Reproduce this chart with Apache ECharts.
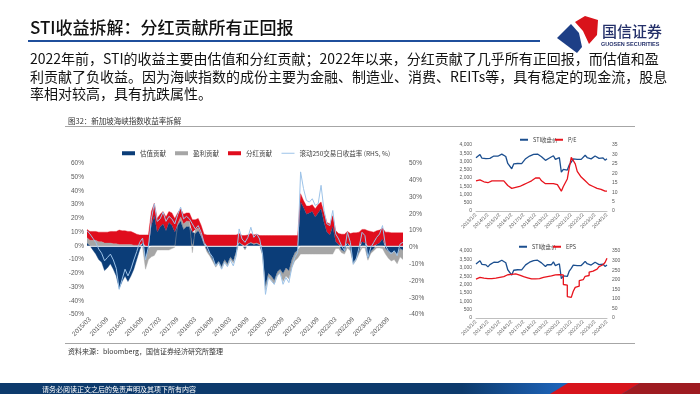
<!DOCTYPE html>
<html><head><meta charset="utf-8">
<script src="https://cdn.jsdelivr.net/npm/echarts@6/dist/echarts.min.js"></script>
<style>
body{margin:0;width:700px;height:394px;overflow:hidden;background:#fff;font-family:"Noto Sans CJK SC","Noto Sans",sans-serif;}
#chart{position:absolute;left:0;top:0;width:700px;height:394px;}
.t{position:absolute;white-space:nowrap;}
#ov{position:absolute;left:0;top:0;}
</style></head><body>
<div id="chart"></div>
<svg id="ov" width="700" height="394" xmlns="http://www.w3.org/2000/svg">
  <defs>
    <linearGradient id="bg" x1="0" x2="1" y1="0" y2="0">
      <stop offset="0" stop-color="#0d3a6c"/>
      <stop offset="0.66" stop-color="#0d3a6c"/>
      <stop offset="0.8" stop-color="#1d63b8"/>
      <stop offset="1" stop-color="#1d63b8"/>
    </linearGradient>
  </defs>
  <rect x="28" y="40" width="512" height="2" fill="#1f4f9c"/>
  <rect x="65" y="126" width="570" height="1" fill="#a6a6a6"/>
  <rect x="65" y="343" width="570" height="1" fill="#a6a6a6"/>
  <rect x="0" y="383" width="700" height="11" fill="url(#bg)"/>
  <polygon points="550,394 568,383 640,383 622,394" fill="#d7141c"/>
  <polygon points="622,394 640,383 700,383 700,394" fill="#9e1b21"/>
  <polygon points="557,38 571,24 579,33 582,47 577,53" fill="#1d3f86"/>
  <polygon points="575,22 585,16 598,20 597,35 589,44 583,31" fill="#d9131b"/>
</svg>
<div class="t" style="left:30px;top:14px;font-size:17px;font-weight:500;color:#111;">STI收益拆解：分红贡献所有正回报</div>
<div class="t" style="left:602px;top:20px;font-size:15px;font-weight:500;color:#24306a;">国信证券</div>
<div class="t" style="left:601px;top:41px;font-size:5.5px;font-weight:700;color:#24306a;font-family:'Liberation Sans',sans-serif;">GUOSEN SECURITIES</div>
<div class="t" style="left:30px;top:50px;font-size:14px;line-height:17.5px;color:#111;">2022年前，STI的收益主要由估值和分红贡献；2022年以来，分红贡献了几乎所有正回报，而估值和盈<br>利贡献了负收益。因为海峡指数的成份主要为金融、制造业、消费、REITs等，具有稳定的现金流，股息<br>率相对较高，具有抗跌属性。</div>
<div class="t" style="left:68px;top:115px;font-size:7.5px;color:#333;">图32：新加坡海峡指数收益率拆解</div>
<div class="t" style="left:68px;top:346px;font-size:7px;color:#333;">资料来源：bloomberg，国信证券经济研究所整理</div>
<div class="t" style="left:42px;top:383.5px;font-size:7px;line-height:10px;color:#fff;">请务必阅读正文之后的免责声明及其项下所有内容</div>
<script>
// ---- main chart data (monthly, 2015/02 - 2024/02) ----
const mainTickLabels = ['2015/03','2015/09','2016/03','2016/09','2017/03','2017/09','2018/03','2018/09','2019/03','2019/09','2020/03','2020/09','2021/03','2021/09','2022/03','2022/09','2023/03','2023/09'];
const mainMonths = [];
for (let y = 2015, m = 2; !(y === 2024 && m === 3);) { mainMonths.push(y + '/' + String(m).padStart(2, '0')); m++; if (m > 12) { m = 1; y++; } }
const valuation = [2,0,-3,-6,-10,-12,-18,-16,-13,-17,
 -22,-31,-26,-22,-26,-22,-17,-10,-3,2,
 -9,-2,15,22,10,14,16,11,17,15,
 10,15,18,12,14,14,10,9,11,7,
 1,-3,-6,-10,-14,-11,-15,-10,-13,-8,
 -11,-4,2,0.5,-2,1,2,1,1.5,0.5,
 -6,-29,-20,-22,-25,-19,-17,-20,-16,-18,
 -10,-5,-3,32,28,23,24,25,21,24,
 27,17,10,8,14,3,1,-3,-4,2,
 -2,-12,-9,-4,3,2,-9,-4,-2,1,
 2,5,-2,-4,-5,-4,-6,-2,-3];
const earnings = [4,4,4,4,3,3,2,2,2,1.5,
 1.5,1,1,1,1,1,0.5,0.5,0.5,-1,
 -8,-8,-8,-7,-3,-3,-3,-3,-3,-2,
 -1,1,3,4,4,4,-5,3,2,1,
 0.5,-1.5,-1.5,-1.5,-1.5,-1.5,-1.5,-1.5,-1.5,-1.5,
 -1.5,-1.5,0.5,0.5,-1,0.5,0.5,0.5,0.5,0.5,
 -1,-3,-3,-3,-3,-3,-3,-6,-6,-6,
 -6,-6,-6,-6,-6,-6,-6,-6,-6,-6,
 -6,-6,-6,-6,-6,-2,-2,-2,-2,-1.5,
 -1.5,-1.5,-1.5,-1.5,-1.5,-1.5,-1.5,-1.5,-1.5,-1.5,
 -1.5,-2,-4,-5,-6,-6,-7,-6,-7];
const dividend = [6,6.5,6.5,6.5,7,7,8,8,8.5,9,
 9,10.5,10,10,9.5,9.5,9,8,7.5,6,
 8,8,10,9,10,9,9,10,8,9,
 10,8,6,7,6,6,9,7,7,7,
 7,8,8,8,8,8,8,8,8,8,
 8,8,6.5,6.5,7.5,6.5,6.5,6.5,6.5,6.5,
 7.5,7.5,7.5,7.5,7.5,7.5,7.5,7.5,7.5,7.5,
 7.5,7.5,7.5,6,5,6,5,5,6,6,
 5,7,7,8,8,8,8,8.5,8.5,8.5,
 9,9.5,9.5,10,9,10,11,10.5,10,10,
 9.5,8,10,10,9.5,9.5,9.5,9.5,9.5];
const rolling250 = [10,8,5.5,3,-1,-3.5,-8,-6,-4,-7.5,
 -12.5,-25,-19,-13,-17,-13,-7.5,-2.5,3,5.5,
 -7.5,0.5,17,26,15.5,17,21,15.5,18.5,17,
 14,19.5,24,17,18.5,17,14,11,13,9,
 3,0.5,-3.5,-6,-11,-9,-13,-9,-11.5,-7.5,
 -11,-5,11,5,3,6,12,6,8,5,
 -4,-28,-18,-20,-22,-17,-15,-22,-18,-21,
 -12,-6,-3,45,35,28,27,29,25,26,
 37,22,14,13,22,8,5,1,-2,9,
 3,-10,-7,0,9,7,-6,0,3,6,
 8,13,1,-2,-4,-2,-5,2,3];

// ---- right small charts (bi-monthly, 2013/01 - 2024/01) ----
const smallTickLabels = ['2013/1/2','2014/1/2','2015/1/2','2016/1/2','2017/1/2','2018/1/2','2019/1/2','2020/1/2','2021/1/2','2022/1/2','2023/1/2','2024/1/2'];
const smallMonths = [];
for (let y = 2013, m = 1; y < 2024 || (y === 2024 && m === 1);) { smallMonths.push(y + '/' + m); m += 2; if (m > 12) { m -= 12; y++; } }
const sti = [3220,3300,3420,3200,3150,3170,
 3050,3190,3270,3330,3290,3320,
 3360,3450,3400,3300,2880,2900,
 2560,2850,2780,2880,2860,2870,
 3020,3170,3220,3330,3220,3430,
 3530,3450,3560,3290,3220,3070,
 3190,3210,3180,3350,3130,3220,
 3240,2350,2520,2620,2480,2800,
 2960,3160,3140,3130,3080,3130,
 3250,3380,3240,3200,3160,3250,
 3330,3270,3190,3290,3220,3080,
 3170];
const pe = [16,16.5,16.5,15.5,15.5,15.5,
 15,15.5,16,16,16,15.5,
 16,16.5,16,15.5,13.5,13,
 12,12.5,12.5,13,13,13.5,
 14,14.5,15,15.5,16,16.5,
 17.5,17,17.5,16,15,14.5,
 14.5,14.5,14,14.5,14,14,
 14,10.5,13,15,17,23,
 28.5,28,25,21,20,18,
 17,16,15,14,13,13,
 12.5,12,11.5,11.5,11,10.5,
 10.5];
const eps = [203,212,210,208,207,206,
 205,206,207,208,210,212,
 214,216,222,226,226,228,
 232,230,228,224,220,216,
 212,210,206,204,203,204,
 205,206,208,212,214,216,
 218,220,222,225,226,227,
 227,225,175,172,112,108,
 108,140,160,166,195,200,
 205,218,222,240,245,248,
 255,262,268,278,282,290,
 312];

const C_BLUE = '#0b3d78', C_GRAY = '#a6a6a6', C_RED = '#e00d1d', C_LINE = '#9dc3e8';
const C_STI = '#1c4f8f', C_PE = '#e8131c';
const lab = { color: '#595959', fontFamily: 'Liberation Sans, sans-serif' };

const chart = echarts.init(document.getElementById('chart'), null, { renderer: 'canvas' });

function smallX(gi) {
  return {
    type: 'category', gridIndex: gi, data: smallMonths, boundaryGap: false,
    axisLine: { lineStyle: { color: '#bfbfbf', width: 1 } }, axisTick: { show: false },
    axisLabel: Object.assign({ fontSize: 5, rotate: 45, margin: 3,
      interval: (i) => i % 6 === 0,
      formatter: (v, i) => smallTickLabels[Math.round(i / 6)] }, lab),
    splitLine: { show: false }
  };
}
function valAxis(gi, pos, min, max, itv, fmt, fs, margin) {
  return {
    type: 'value', gridIndex: gi, position: pos, min: min, max: max, interval: itv,
    axisLine: { show: false }, axisTick: { show: false }, splitLine: { show: false },
    axisLabel: Object.assign({ fontSize: fs, margin: margin, formatter: fmt }, lab)
  };
}
function area(name, data, color) {
  return { name: name, type: 'line', xAxisIndex: 0, yAxisIndex: 0, stack: 'contrib', stackStrategy: 'samesign',
    data: data, symbol: 'none', lineStyle: { width: 0.4, color: color }, itemStyle: { color: color },
    areaStyle: { color: color, opacity: 1 } };
}
const legText = { fontSize: 6.5, color: '#404040', fontFamily: 'Noto Sans CJK SC, sans-serif' };
const legSmall = { fontSize: 5.5, color: '#404040', fontFamily: 'Noto Sans CJK SC, sans-serif' };

chart.setOption({
  animation: false,
  grid: [
    { left: 87, top: 163.5, width: 316, height: 151 },
    { left: 476, top: 145, width: 131, height: 66 },
    { left: 476, top: 251, width: 131, height: 67 }
  ],
  legend: [
    { left: 117, top: 145, itemWidth: 13, itemHeight: 4, itemGap: 9, icon: 'rect', textStyle: legText,
      data: ['估值贡献', '盈利贡献', '分红贡献'] },
    { left: 276.5, top: 145, itemWidth: 13, itemHeight: 1, icon: 'rect', textStyle: legText,
      data: ['滚动250交易日收益率 (RHS, %)'] },
    { left: 515, top: 132, itemWidth: 8, itemHeight: 2, icon: 'rect', textStyle: legSmall, data: ['STI收盘价'] },
    { left: 550, top: 132, itemWidth: 8, itemHeight: 2, icon: 'rect', textStyle: legSmall, data: ['P/E'] },
    { left: 514, top: 239, itemWidth: 8, itemHeight: 2, icon: 'rect', textStyle: legSmall, data: ['STI收盘价'] },
    { left: 548, top: 239, itemWidth: 8, itemHeight: 2, icon: 'rect', textStyle: legSmall, data: ['EPS'] }
  ],
  xAxis: [
    { type: 'category', gridIndex: 0, data: mainMonths, boundaryGap: false,
      axisLine: { show: false }, axisTick: { show: false }, splitLine: { show: false },
      axisLabel: Object.assign({ fontSize: 6.5, rotate: 45, margin: 4,
        interval: (i, v) => mainTickLabels.indexOf(v) >= 0 }, lab) },
    smallX(1), smallX(2)
  ],
  yAxis: [
    valAxis(0, 'left', -50, 60, 10, '{value}%', 6.5, 3),
    valAxis(0, 'right', -40, 50, 10, '{value}%', 6.5, 6),
    valAxis(1, 'left', 0, 4000, 500, '{value}', 5, 4),
    valAxis(1, 'right', 0, 35, 5, '{value}', 5, 5),
    valAxis(2, 'left', 0, 4000, 500, '{value}', 5, 4),
    valAxis(2, 'right', 0, 350, 50, '{value}', 5, 5)
  ],
  series: [
    area('估值贡献', valuation, C_BLUE),
    area('盈利贡献', earnings, C_GRAY),
    Object.assign(area('分红贡献', dividend, C_RED), {
      markLine: { silent: true, symbol: 'none', label: { show: false },
        lineStyle: { color: '#ffffff', width: 0.8, type: 'solid' }, data: [{ yAxis: 0 }] } }),
    { name: '滚动250交易日收益率 (RHS, %)', type: 'line', xAxisIndex: 0, yAxisIndex: 1, data: rolling250,
      symbol: 'none', lineStyle: { width: 1, color: C_LINE }, itemStyle: { color: C_LINE }, z: 5 },
    { name: 'STI收盘价', type: 'line', xAxisIndex: 1, yAxisIndex: 2, data: sti, symbol: 'none',
      lineStyle: { width: 1.3, color: C_STI }, itemStyle: { color: C_STI } },
    { name: 'P/E', type: 'line', xAxisIndex: 1, yAxisIndex: 3, data: pe, symbol: 'none',
      lineStyle: { width: 1.3, color: C_PE }, itemStyle: { color: C_PE } },
    { name: 'STI收盘价', type: 'line', xAxisIndex: 2, yAxisIndex: 4, data: sti, symbol: 'none',
      lineStyle: { width: 1.3, color: C_STI }, itemStyle: { color: C_STI } },
    { name: 'EPS', type: 'line', xAxisIndex: 2, yAxisIndex: 5, data: eps, symbol: 'none', step: 'end',
      lineStyle: { width: 1.3, color: C_PE }, itemStyle: { color: C_PE } }
  ]
});
</script>
</body></html>
